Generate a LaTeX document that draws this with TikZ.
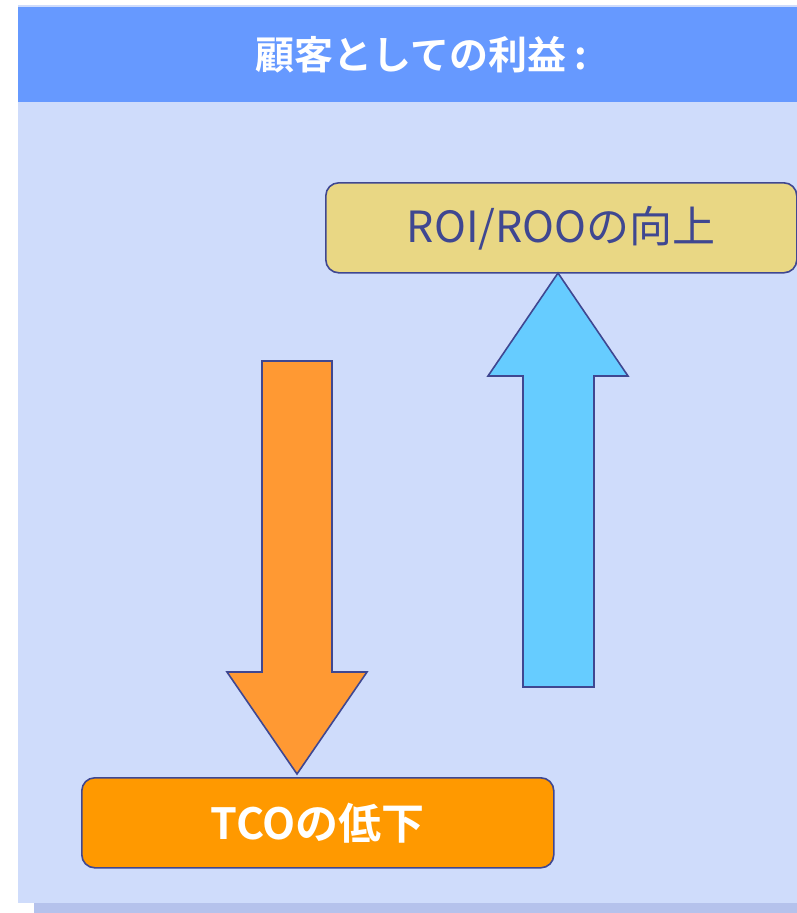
\documentclass[tikz,border=0pt]{standalone}
\usepackage{fontspec}
\setmainfont{Noto Sans CJK JP}
\newfontfamily\jpfont{Noto Sans CJK JP}
\newfontfamily\jpbold{Noto Sans CJK JP Bold}
\definecolor{panel}{HTML}{CFDCFB}
\definecolor{shadowc}{HTML}{B5C2EC}
\definecolor{header}{HTML}{6699FF}
\definecolor{edge}{HTML}{3F4791}
\definecolor{ybox}{HTML}{E9D784}
\definecolor{obox}{HTML}{FF9900}
\definecolor{oarrow}{HTML}{FF9933}
\definecolor{barrow}{HTML}{66CCFF}
\tikzset{
  box/.style={draw=edge, line width=1.6pt, rounded corners=13pt, inner sep=0pt, anchor=north west},
  blockarrow/.style={draw=edge, line width=1.6pt, line join=miter},
}
\begin{document}
\begin{tikzpicture}[x=1pt,y=-1pt]
\useasboundingbox (0,0) rectangle (797,913);
\fill[white] (0,0) rectangle (797,913);
% shadow and panel
\fill[shadowc] (34,903) rectangle (797,913);
\fill[panel] (18,5) rectangle (797,903);
\fill[header] (18,7) rectangle (797,102);
\node[text=white, font=\jpbold\fontsize{39}{44}\selectfont, anchor=west, inner sep=0pt] (title) at (255,55) {顧客としての利益\kern8pt:};
% boxes
\node[box, fill=ybox, minimum width=471pt, minimum height=90pt] (roi) at (325,182) {};
\node[text=edge, font=\jpfont\fontsize{43}{48}\selectfont] (roit) at (roi.center) {ROI/ROOの向上};
\node[box, fill=obox, minimum width=472pt, minimum height=90pt] (tco) at (81,777) {};
\node[text=white, font=\jpbold\fontsize{43}{48}\selectfont] (tcot) at (tco.center) {TCOの低下};
% arrows
\draw[blockarrow, fill=oarrow] (262,361) -- (332,361) -- (332,672) -- (367,672) -- (297,774) -- (227,672) -- (262,672) -- cycle;
\draw[blockarrow, fill=barrow] (523,687) -- (594,687) -- (594,376) -- (628,376) -- (558,273) -- (488,376) -- (523,376) -- cycle;
\end{tikzpicture}
\end{document}
